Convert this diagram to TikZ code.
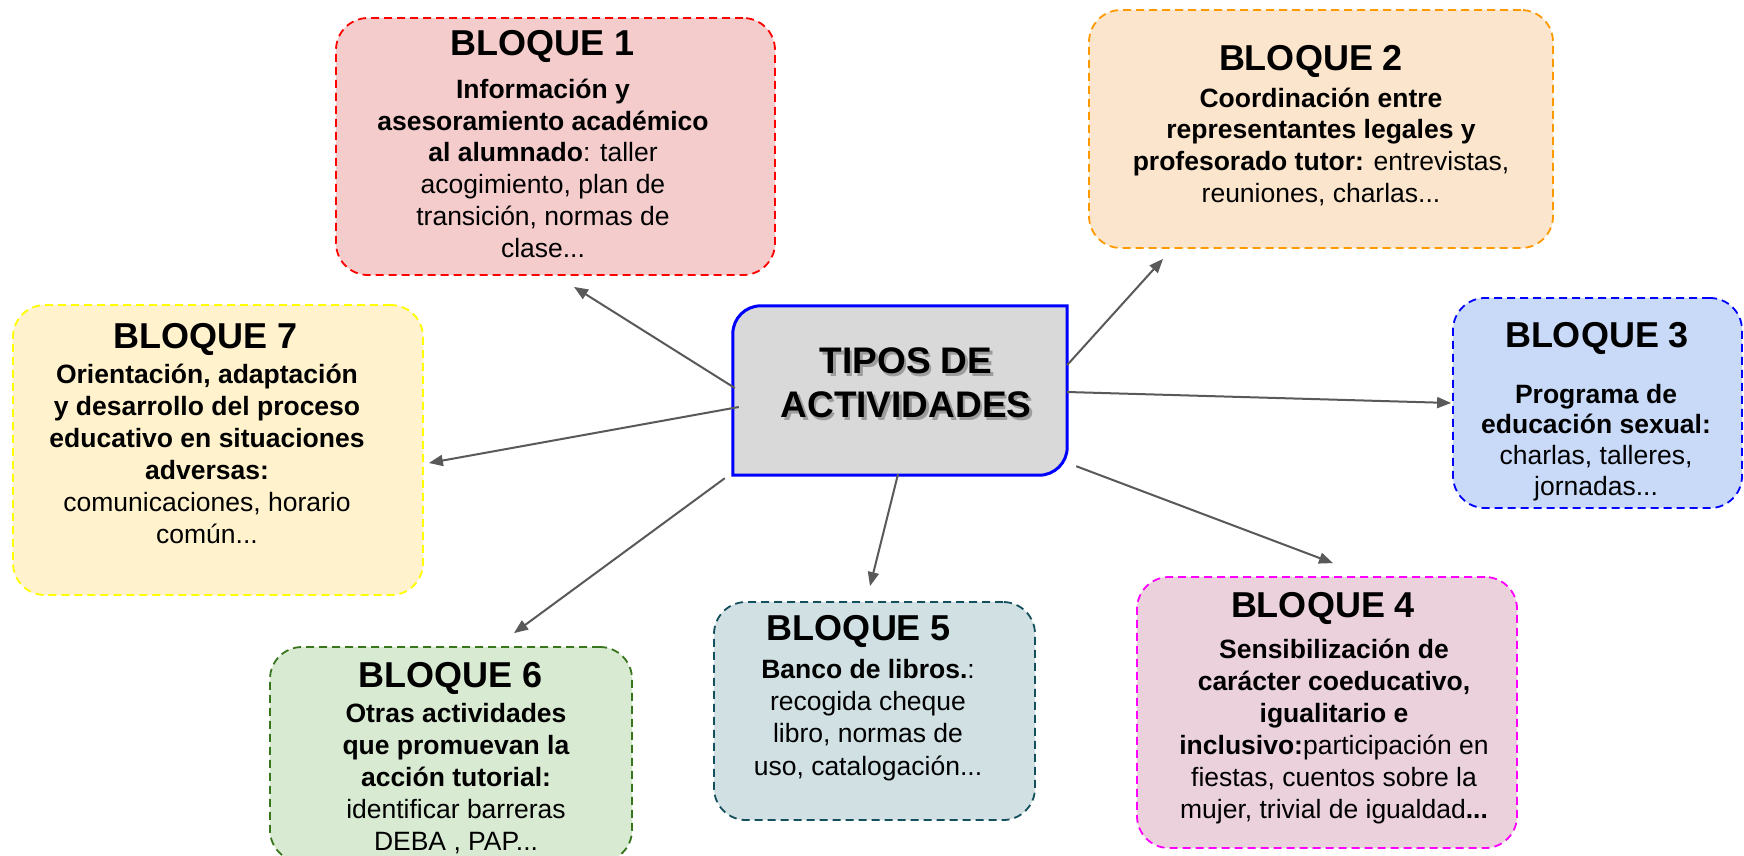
\documentclass[tikz,border=0pt]{standalone}
\usepackage{fontspec}
\setmainfont{Liberation Sans}
\usetikzlibrary{arrows.meta,calc}
\definecolor{arrgray}{HTML}{595959}
\definecolor{cfill}{HTML}{D9D9D9}
\definecolor{cline}{HTML}{0000FF}
\definecolor{fone}{HTML}{F4CCCC}\definecolor{lone}{HTML}{FF0000}
\definecolor{ftwo}{HTML}{FCE5CD}\definecolor{ltwo}{HTML}{FF9900}
\definecolor{fthree}{HTML}{C9DAF8}\definecolor{lthree}{HTML}{0000FF}
\definecolor{ffour}{HTML}{EAD1DC}\definecolor{lfour}{HTML}{FF00FF}
\definecolor{ffive}{HTML}{D0E0E3}\definecolor{lfive}{HTML}{134F5C}
\definecolor{fsix}{HTML}{D9EAD3}\definecolor{lsix}{HTML}{38761D}
\definecolor{fseven}{HTML}{FFF2CC}\definecolor{lseven}{HTML}{FFFF00}
\begin{document}
\begin{tikzpicture}[x=1pt,y=-1pt,
  bx/.style={rounded corners=32pt, line width=1.8pt, dash pattern=on 8pt off 5pt, inner sep=0pt},
  ttl/.style={font=\fontsize{36}{43}\selectfont\bfseries, anchor=base, inner sep=0pt},
  bdy/.style={font=\fontsize{26.5}{32}\selectfont, align=center, anchor=north, inner sep=0pt},
  ctext/.style={font=\fontsize{37}{44}\selectfont\bfseries, align=center, anchor=north, inner sep=0pt},
  arr/.style={draw=arrgray, line width=2pt, -{Triangle[length=14pt,width=11pt]}}]
\useasboundingbox (0,0) rectangle (1744,855);
\fill[white] (0,0) rectangle (1744,855);

% boxes
\node[bx, draw=lone, fill=fone, minimum width=439pt, minimum height=257pt] (b1) at (555.5,146.5) {};
\node[bx, draw=ltwo, fill=ftwo, minimum width=464pt, minimum height=238pt] (b2) at (1321,129) {};
\node[bx, draw=lthree, fill=fthree, minimum width=289pt, minimum height=210pt] (b3) at (1597.5,403) {};
\node[bx, draw=lfour, fill=ffour, minimum width=380pt, minimum height=271pt] (b4) at (1327,712.5) {};
\node[bx, draw=lfive, fill=ffive, minimum width=321pt, minimum height=218pt] (b5) at (874.5,711) {};
\node[bx, draw=lsix, fill=fsix, minimum width=362pt, minimum height=215pt] (b6) at (451,754.5) {};
\node[bx, draw=lseven, fill=fseven, minimum width=410pt, minimum height=290pt] (b7) at (218,450) {};

% texts
\node[ttl] (h1) at (543,55) {BLOQUE 1};
\node[bdy, font=\fontsize{26.5}{31.8}\selectfont] (t1) at (543,74) {\rule{0pt}{24pt}\textbf{Información y}\\ \textbf{asesoramiento académico}\\ \textbf{al alumnado}: taller\\ acogimiento, plan de\\ transición, normas de\\ clase...};

\node[ttl] (h2) at (1311,70) {BLOQUE 2};
\node[bdy, font=\fontsize{26.5}{31.7}\selectfont] (t2) at (1321,83) {\rule{0pt}{24pt}\textbf{Coordinación entre}\\ \textbf{representantes legales y}\\ \textbf{profesorado tutor:} entrevistas,\\ reuniones, charlas...};

\node[ttl] (h3) at (1597,347) {BLOQUE 3};
\node[bdy, font=\fontsize{26.5}{30.7}\selectfont] (t3) at (1596,379) {\rule{0pt}{24pt}\textbf{Programa de}\\ \textbf{educación sexual:}\\ charlas, talleres,\\ jornadas...};

\node[ttl] (h4) at (1323,617) {BLOQUE 4};
\node[bdy] (t4) at (1334,634) {\rule{0pt}{24pt}\textbf{Sensibilización de}\\ \textbf{carácter coeducativo,}\\ \textbf{igualitario e}\\ \textbf{inclusivo:}participación en\\ fiestas, cuentos sobre la\\ mujer, trivial de igualdad\textbf{...}};

\node[ttl] (h5) at (859,640) {BLOQUE 5};
\node[bdy, font=\fontsize{26.5}{32.3}\selectfont] (t5) at (868,654) {\rule{0pt}{24pt}\textbf{Banco de libros.}:\\ recogida cheque\\ libro, normas de\\ uso, catalogación...};

\node[ttl] (h6) at (451,687) {BLOQUE 6};
\node[bdy] (t6) at (456,698) {\rule{0pt}{24pt}\textbf{Otras actividades}\\ \textbf{que promuevan la}\\ \textbf{acción tutorial:}\\ identificar barreras\\ DEBA , PAP...};

\node[ttl] (h7) at (206,348) {BLOQUE 7};
\node[bdy] (t7) at (207,359) {\rule{0pt}{24pt}\textbf{Orientación, adaptación}\\ \textbf{y desarrollo del proceso}\\ \textbf{educativo en situaciones}\\ \textbf{adversas:}\\ comunicaciones, horario\\ común...};

% central
\node[minimum width=334pt, minimum height=169pt, inner sep=0pt] (c) at (900,390.5) {};
\draw[line width=3pt, draw=cline, fill=cfill] (c.north) [sharp corners] -- (c.north east) [rounded corners=28pt] -- (c.south east) [sharp corners] -- (c.south west) [rounded corners=28pt] -- (c.north west) [sharp corners] -- cycle;
\node[ctext, text=black, opacity=0.28] (cs) at (908.5,346) {\rule{0pt}{30pt}TIPOS DE\\ ACTIVIDADES};
\node[ctext] (ct) at (906,343) {\rule{0pt}{30pt}TIPOS DE\\ ACTIVIDADES};

% arrows
\draw[arr] ($(c.west)+(2,-2.5)$) -- ($(b1.south)+(18.5,11)$);
\draw[arr] ($(c.east)+(0,-25.5)$) -- ($(b2.south)+(-158,10)$);
\draw[arr] ($(c.east)+(0,1.5)$) -- ($(b3.west)+(-1,0)$);
\draw[arr] ($(c.south east)+(9,-9)$) -- ($(b4.north)+(6,-13)$);
\draw[arr] ($(c.south)+(-2,-1)$) -- ($(b5.north)+(-4.5,-15)$);
\draw[arr] ($(c.south west)+(-8,3)$) -- ($(b6.north)+(63,-13)$);
\draw[arr] ($(c.west)+(6,16.5)$) -- ($(b7.east)+(5,13)$);
\end{tikzpicture}
\end{document}
